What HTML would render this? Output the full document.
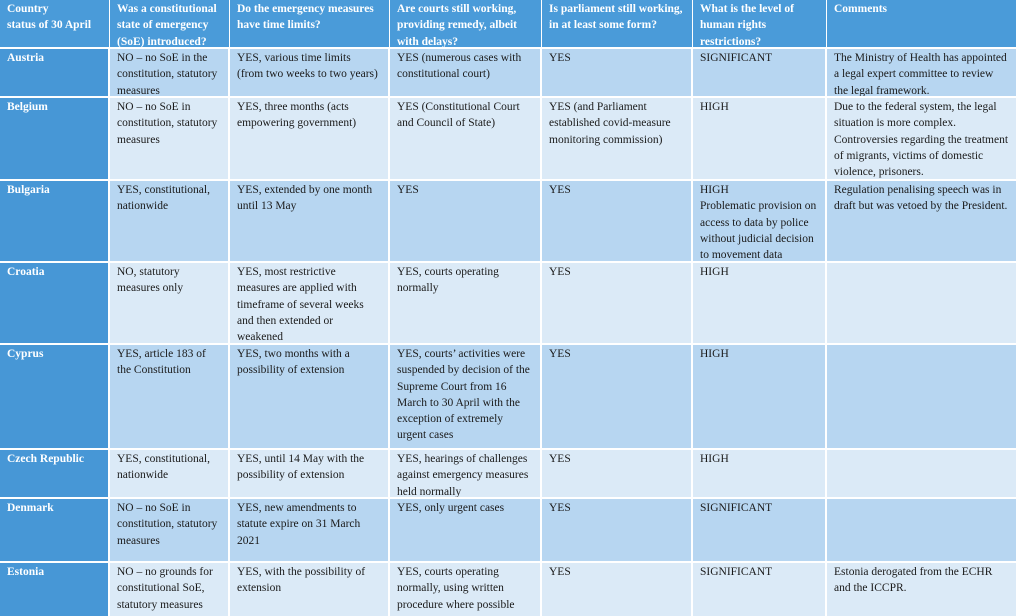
<!DOCTYPE html>
<html><head><meta charset="utf-8"><style>
*{margin:0;padding:0;box-sizing:border-box}
body{width:1016px;height:616px;overflow:hidden;background:#fff;font-family:"Liberation Serif",serif;font-size:11.5px;line-height:16.3px;color:#1a1a1a;position:relative}
.c{position:absolute;padding:1px 4px 0 7px;white-space:nowrap;overflow:hidden}
.h{background:#4a9bd9;color:#fff;font-weight:bold}
.f{background:#4797d6;color:#fff;font-weight:bold}
.a{background:#b7d6f1}
.b{background:#dbeaf7}
</style></head><body>
<div id="t"></div>
<script>
var xs=[0,109,229,389,541,692,826,1016];
var ys=[0,48,97,180,262,344,449,498,562,616];
var rows=[
["Country<br>status of 30 April","Was a constitutional<br>state of emergency<br>(SoE) introduced?","Do the emergency measures<br>have time limits?","Are courts still working,<br>providing remedy, albeit<br>with delays?","Is parliament still working,<br>in at least some form?","What is the level of<br>human rights<br>restrictions?","Comments"],
["Austria","NO – no SoE in the<br>constitution, statutory<br>measures","YES, various time limits<br>(from two weeks to two years)","YES (numerous cases with<br>constitutional court)","YES","SIGNIFICANT","The Ministry of Health has appointed<br>a legal expert committee to review<br>the legal framework."],
["Belgium","NO – no SoE in<br>constitution, statutory<br>measures","YES, three months (acts<br>empowering government)","YES (Constitutional Court<br>and Council of State)","YES (and Parliament<br>established covid-measure<br>monitoring commission)","HIGH","Due to the federal system, the legal<br>situation is more complex.<br>Controversies regarding the treatment<br>of migrants, victims of domestic<br>violence, prisoners."],
["Bulgaria","YES, constitutional,<br>nationwide","YES, extended by one month<br>until 13 May","YES","YES","HIGH<br>Problematic provision on<br>access to data by police<br>without judicial decision<br>to movement data","Regulation penalising speech was in<br>draft but was vetoed by the President."],
["Croatia","NO, statutory<br>measures only","YES, most restrictive<br>measures are applied with<br>timeframe of several weeks<br>and then extended or<br>weakened","YES, courts operating<br>normally","YES","HIGH",""],
["Cyprus","YES, article 183 of<br>the Constitution","YES, two months with a<br>possibility of extension","YES, courts’ activities were<br>suspended by decision of the<br>Supreme Court from 16<br>March to 30 April with the<br>exception of extremely<br>urgent cases","YES","HIGH",""],
["Czech Republic","YES, constitutional,<br>nationwide","YES, until 14 May with the<br>possibility of extension","YES, hearings of challenges<br>against emergency measures<br>held normally","YES","HIGH",""],
["Denmark","NO – no SoE in<br>constitution, statutory<br>measures","YES, new amendments to<br>statute expire on 31 March<br>2021","YES, only urgent cases","YES","SIGNIFICANT",""],
["Estonia","NO – no grounds for<br>constitutional SoE,<br>statutory measures","YES, with the possibility of<br>extension","YES, courts operating<br>normally, using written<br>procedure where possible","YES","SIGNIFICANT","Estonia derogated from the ECHR<br>and the ICCPR."]
];
var h="";
for(var r=0;r<rows.length;r++){for(var c=0;c<7;c++){
var cls=r==0?"h":(c==0?"f":(r%2?"a":"b"));
var x=xs[c]+(c?1:0),y=ys[r]+(r?1:0),w=xs[c+1]-x-1,hh=ys[r+1]-y-1;
if(r==0){w=xs[c+1]-x;}
if(c==6)w=xs[7]-x;
h+='<div class="c '+cls+'" style="left:'+x+'px;top:'+y+'px;width:'+w+'px;height:'+(r==8?hh+1:hh)+'px">'+rows[r][c]+'</div>';}}
document.getElementById("t").innerHTML=h;
</script>
</body></html>
